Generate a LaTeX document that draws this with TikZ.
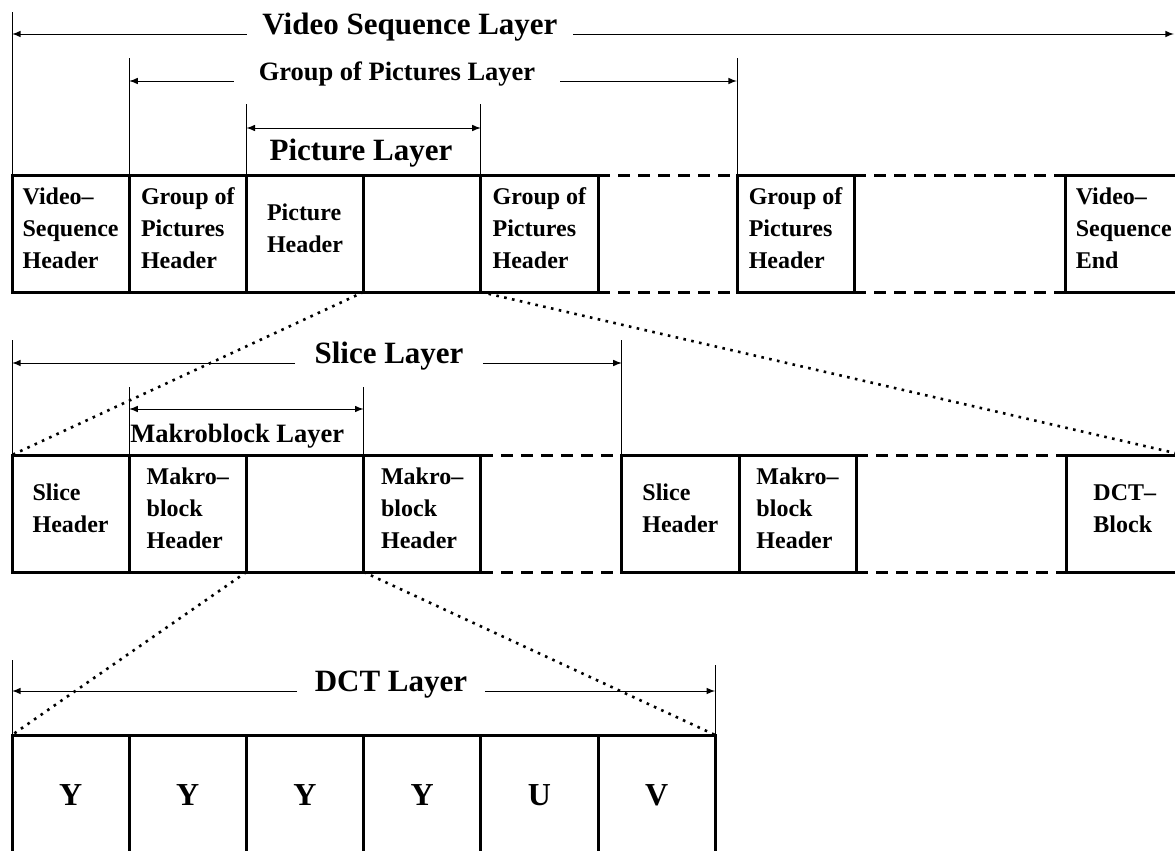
\documentclass[tikz,border=0pt]{standalone}
\usepackage{fontspec}
\setmainfont{Liberation Serif}
\usetikzlibrary{positioning,calc,arrows}
\tikzset{blk/.style={draw,rectangle,line width=1.5pt,outer sep=0pt,inner sep=0pt,minimum width=58.6pt,minimum height=58.5pt,align=left,text depth=5pt,node font=\bfseries\fontsize{12}{16}\selectfont}}
\tikzset{yuv/.style={blk,minimum height=60pt,text depth=0pt,node font=\bfseries\fontsize{16}{18}\selectfont}}
\tikzset{lay/.style={inner sep=0pt,node font=\bfseries\fontsize{15.5}{18}\selectfont}}
\tikzset{laysm/.style={inner sep=0pt,node font=\bfseries\fontsize{13.25}{16}\selectfont}}
\tikzset{dimline/.style={line width=0.5pt}}
\tikzset{dashgap/.style={line width=1.5pt,dash pattern=on 6pt off 4pt}}
\tikzset{spread/.style={line width=1.3pt,dash pattern=on 1.3pt off 2.7pt}}

\begin{document}
\begin{tikzpicture}[x=0.5pt,y=-0.5pt,>=latex]
        \useasboundingbox (0,0) rectangle (1175,851);
        \clip (0,0) rectangle (1175,851);
        \node[blk,anchor=north west] (vsh) at (12,175) {Video--\\Sequence\\Header};
        \node[blk] (gph1) [right=0pt of vsh] {Group of\\Pictures\\Header};
        \node[blk] (ph) [right=0pt of gph1] {Picture\\Header};
        \node[blk] (pic) [right=0pt of ph] {};
        \node[blk] (gph2) [right=0pt of pic] {Group of\\Pictures\\Header};
        \node[blk] (gph3) [right=69.5pt of gph2] {Group of\\Pictures\\Header};
        \node[blk] (vse) [right=105.5pt of gph3] {Video--\\Sequence\\End};
        \draw[dashgap] (gph2.north east) -- (gph3.north west);
        \draw[dashgap] (gph2.south east) -- (gph3.south west);
        \draw[dashgap] (gph3.north east) -- (vse.north west);
        \draw[dashgap] (gph3.south east) -- (vse.south west);
        \node[lay,anchor=base,minimum width=163pt] (vsl) at (410,34) {Video Sequence Layer};
        \coordinate (vsr) at (1174,34);
        \draw[dimline] (vsh.north west) -- ++(0,-163);
        \draw[dimline,->] (vsl.base west) -- (vsl.base west -| vsh.north west);
        \draw[dimline,->] (vsl.base east) -- (vsr);
        \node[laysm,anchor=base,minimum width=163pt] (gpl) at (397,81) {Group of Pictures Layer};
        \draw[dimline] (gph1.north west) -- ++(0,-117);
        \draw[dimline] (gph3.north west) -- ++(0,-117);
        \draw[dimline,->] (gpl.base west) -- (gpl.base west -| gph1.north west);
        \draw[dimline,->] (gpl.base east) -- (gpl.base east -| gph3.north west);
        \node[lay,anchor=base] (pl) at (361,160) {Picture Layer};
        \draw[dimline] (ph.north west) -- ++(0,-71);
        \draw[dimline] (pic.north east) -- ++(0,-71);
        \draw[dimline,<->] ($(ph.north west)+(0,-47)$) -- ($(pic.north east)+(0,-47)$);
        \node[blk,anchor=north west] (sh1) at (12,455) {Slice\\Header};
        \node[blk] (mbh1) [right=0pt of sh1] {Makro--\\block\\Header};
        \node[blk] (mb) [right=0pt of mbh1] {};
        \node[blk] (mbh2) [right=0pt of mb] {Makro--\\block\\Header};
        \node[blk] (sh2) [right=70.5pt of mbh2] {Slice\\Header};
        \node[blk] (mbh3) [right=0pt of sh2] {Makro--\\block\\Header};
        \node[blk] (dctb) [right=105pt of mbh3] {DCT--\\Block};
        \draw[dashgap] (mbh2.north east) -- (sh2.north west);
        \draw[dashgap] (mbh2.south east) -- (sh2.south west);
        \draw[dashgap] (mbh3.north east) -- (dctb.north west);
        \draw[dashgap] (mbh3.south east) -- (dctb.south west);
        \node[lay,anchor=base,minimum width=93.5pt] (sl) at (389,363) {Slice Layer};
        \draw[dimline] (sh1.north west) -- ++(0,-115);
        \draw[dimline] (sh2.north west) -- ++(0,-115);
        \draw[dimline,->] (sl.base west) -- (sl.base west -| sh1.north west);
        \draw[dimline,->] (sl.base east) -- (sl.base east -| sh2.north west);
        \node[laysm,anchor=base west] (ml) at (130,442) {Makroblock Layer};
        \draw[dimline] (mbh1.north west) -- ++(0,-68);
        \draw[dimline] (mb.north east) -- ++(0,-68);
        \draw[dimline,<->] ($(mbh1.north west)+(0,-46)$) -- ($(mb.north east)+(0,-46)$);
        \draw[spread] (pic.south west) -- (sh1.north west);
        \draw[spread] (pic.south east) -- (dctb.north east);
        \node[yuv,anchor=north west] (y1) at (12,735) {Y};
        \node[yuv] (y2) [right=0pt of y1] {Y};
        \node[yuv] (y3) [right=0pt of y2] {Y};
        \node[yuv] (y4) [right=0pt of y3] {Y};
        \node[yuv] (u) [right=0pt of y4] {U};
        \node[yuv] (v) [right=0pt of u] {V};
        \node[lay,anchor=base,minimum width=93.5pt] (dl) at (391,691) {DCT Layer};
        \draw[dimline] (y1.north west) -- ++(0,-75);
        \draw[dimline] (v.north east) -- ++(0,-70);
        \draw[dimline,->] (dl.base west) -- (dl.base west -| y1.north west);
        \draw[dimline,->] (dl.base east) -- (dl.base east -| v.north east);
        \draw[spread] (mb.south west) -- (y1.north west);
        \draw[spread] (mb.south east) -- (v.north east);
\end{tikzpicture}
\end{document}
